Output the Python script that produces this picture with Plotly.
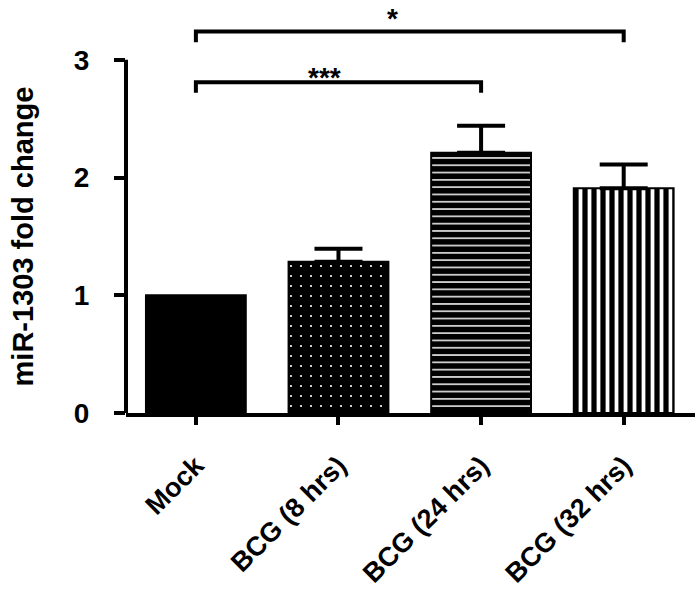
import plotly.graph_objects as go

categories = ["Mock", "BCG (8 hrs)", "BCG (24 hrs)", "BCG (32 hrs)"]
fold_change = [1.0, 1.285, 2.21, 1.91]
sem = [0.0, 0.11, 0.23, 0.20]
patterns = ["", ".", "-", "|"]

font = "Liberation Sans, Arial, sans-serif"
black = "#000000"

fig = go.Figure()

pattern_style = {
    "": dict(shape=""),
    ".": dict(shape=".", fgcolor="white", bgcolor=black, size=10, solidity=0.035, fillmode="replace"),
    "-": dict(shape="-", fgcolor="white", bgcolor=black, size=7.3, solidity=0.2, fillmode="replace"),
    "|": dict(shape="|", fgcolor="white", bgcolor=black, size=9, solidity=0.42, fillmode="replace"),
}

for i, cat in enumerate(categories):
    err = None
    if sem[i] > 0:
        err = dict(type="data", array=[sem[i]], arrayminus=[0], symmetric=False,
                   color=black, thickness=4, width=24)
    fig.add_trace(go.Bar(
        x=[i], y=[fold_change[i]], width=0.70,
        marker=dict(color=black, line=dict(color=black, width=2),
                    pattern=pattern_style[patterns[i]]),
        error_y=err, showlegend=False,
    ))

# significance brackets: (left, right, height, label, label x, label y)
brackets = [(0, 2, 2.81, "***", 0.90, 2.85), (0, 3, 3.24, "*", 1.38, 3.35)]
for x0, x1, yb, label, lx, ly in brackets:
    fig.add_shape(type="path",
                  path=f"M {x0},{yb - 0.09} L {x0},{yb} L {x1},{yb} L {x1},{yb - 0.09}",
                  line=dict(color=black, width=4))
    fig.add_annotation(x=lx, y=ly, text=f"<b>{label}</b>", showarrow=False,
                       yanchor="middle", font=dict(family=font, size=28, color=black))

# y-axis line only up to 3
fig.add_shape(type="line", xref="paper", x0=0, x1=0, yref="y", y0=0, y1=3,
              line=dict(color=black, width=4))

# y title centred on the 0-3 axis
fig.add_annotation(xref="paper", x=0, xshift=-103, xanchor="center", yref="y", y=1.5,
                   text="<b>miR-1303 fold change</b>", textangle=-90, showarrow=False,
                   font=dict(family=font, size=29, color=black))

fig.update_layout(
    width=699, height=589,
    margin=dict(l=126, r=4, t=1, b=176),
    plot_bgcolor="white", paper_bgcolor="white",
    barmode="overlay",
    font=dict(family=font, color=black),
    xaxis=dict(range=[-0.49, 3.50], tickvals=list(range(len(categories))),
               ticktext=[f"<b>{c}</b>" for c in categories], tickangle=-45,
               tickfont=dict(size=27), showline=True, linecolor=black, linewidth=4,
               ticks="outside", ticklen=8, tickwidth=4, tickcolor=black,
               ticklabelstandoff=14, automargin=False,
               showgrid=False, zeroline=False),
    yaxis=dict(range=[0, 3.5], tickvals=[0, 1, 2, 3],
               ticktext=["<b>0</b>", "<b>1</b>", "<b>2</b>", "<b>3</b>"],
               tickfont=dict(size=28), showline=False,
               ticks="outside", ticklen=11, tickwidth=4, tickcolor=black,
               ticklabelstandoff=19, automargin=False,
               showgrid=False, zeroline=False),
)

# drop the default page margin so the figure fills the window exactly
fig.write_html("out.html", config={"displayModeBar": False},
               post_script="document.body.style.margin = '0';")
